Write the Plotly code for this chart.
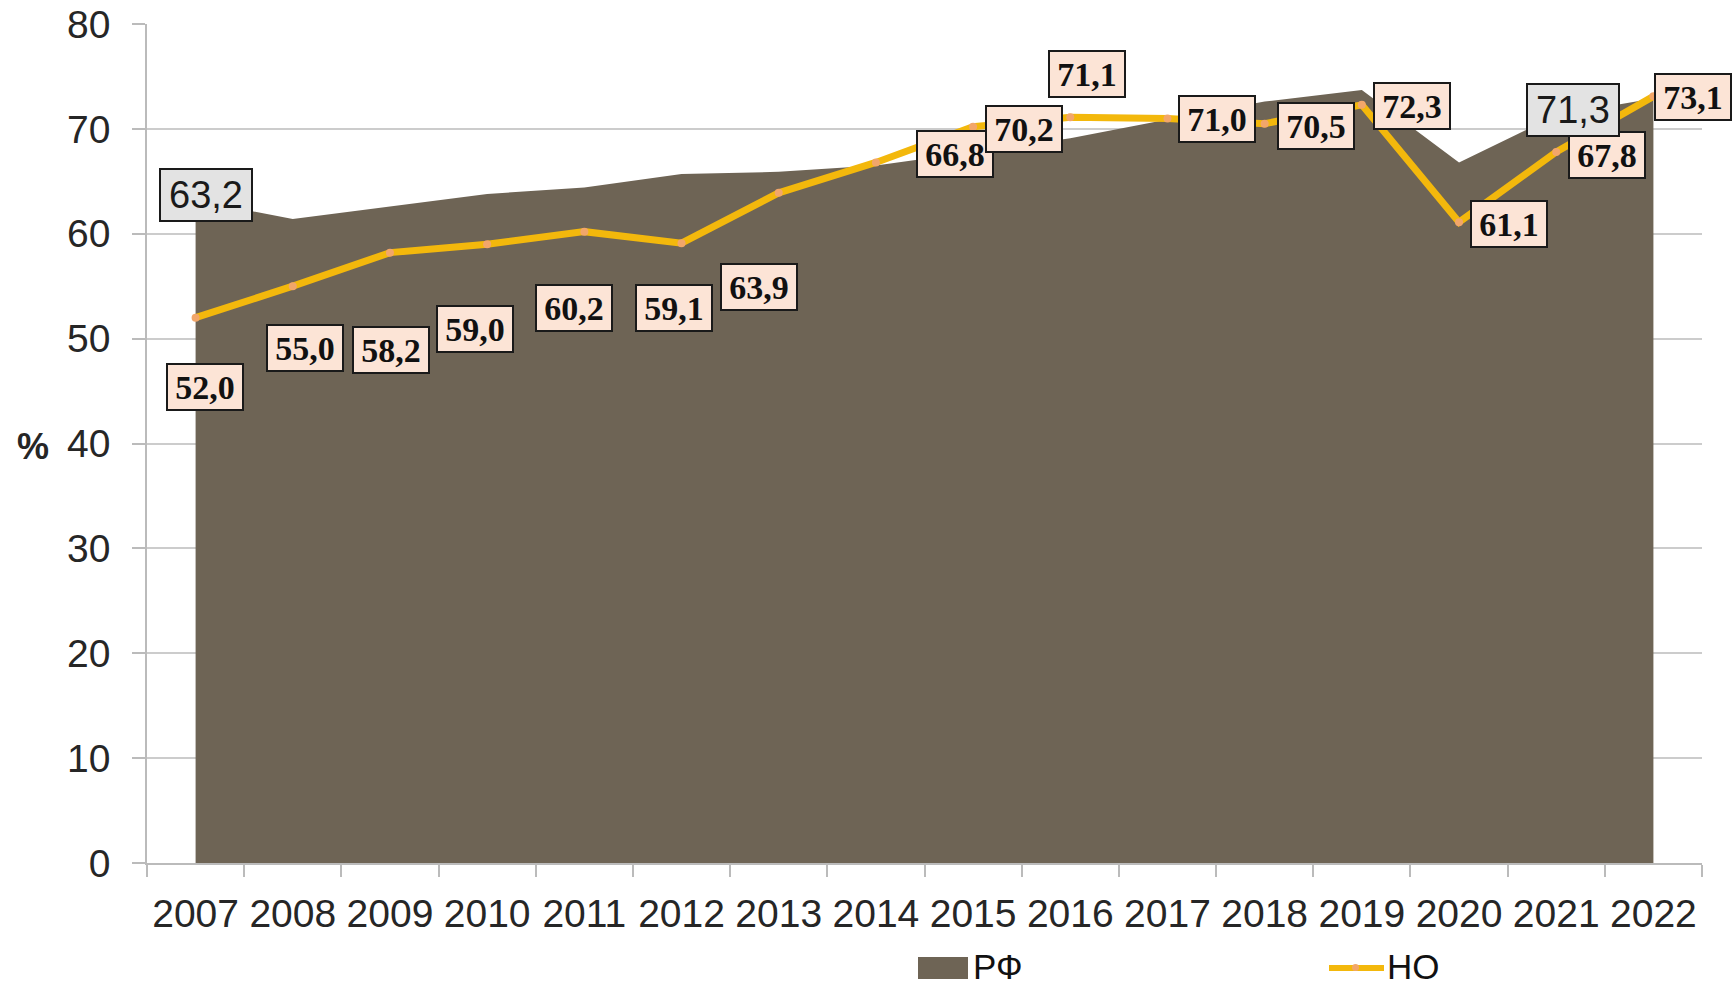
import plotly.graph_objects as go

# ---------------- data ----------------
years = ["2007", "2008", "2009", "2010", "2011", "2012", "2013", "2014",
         "2015", "2016", "2017", "2018", "2019", "2020", "2021", "2022"]
rf_values = [63.2, 61.4, 62.6, 63.8, 64.4, 65.7, 65.9, 66.5,
             67.8, 69.1, 70.9, 72.6, 73.7, 66.8, 71.3, 72.9]
no_values = [52.0, 55.0, 58.2, 59.0, 60.2, 59.1, 63.9, 66.8,
             70.2, 71.1, 71.0, 70.5, 72.3, 61.1, 67.8, 73.1]
rf_labelled_years = ["2007", "2021"]
y_ticks = [0, 10, 20, 30, 40, 50, 60, 70, 80]
series_names = ["РФ", "НО"]

# ---------------- label offsets (px, screen: +dx right, +dy down) ----------------
no_label_offsets = [(9, 69), (12, 62), (1, 97), (-12, 85), (-10, 76), (-8, 65),
                    (-20, 94), (79, -8), (51, 2), (17, -43), (50, 1), (51, 2),
                    (50, 1), (50, 2), (51, 3), (40, 1)]
rf_label_offsets = [(10, -5), (17, -5)]

# ---------------- styles ----------------
W, H = 1734, 986
ML, MR, MT, MB = 147, 32, 24, 123
PW, PH = W - ML - MR, H - MT - MB
AREA_COLOR = "#6E6455"
LINE_COLOR = "#F3B80C"
MARKER_COLOR = "#F2A66A"
PEACH = "#FCE4D6"
GRAYBOX = "#E3E3E3"
GRID = "#CCCCCC"
TXT = "#262626"
SANS = "Liberation Sans, Arial, sans-serif"
SERIF = "Liberation Serif, Times New Roman, serif"


def fmt(v):
    return f"{v:.1f}".replace(".", ",")


def px2paper(x, y):
    return (x - ML) / PW, (H - MB - y) / PH


fig = go.Figure()

fig.add_trace(go.Scatter(
    x=years, y=rf_values, name=series_names[0], mode="lines",
    fill="tozeroy", fillcolor=AREA_COLOR, line=dict(width=0, color=AREA_COLOR),
    showlegend=False, hoverinfo="skip",
))
fig.add_trace(go.Scatter(
    x=years, y=no_values, name=series_names[1], mode="lines+markers",
    line=dict(width=7, color=LINE_COLOR),
    marker=dict(size=8, color=MARKER_COLOR),
    showlegend=False,
))

annotations = []
for i, (v, (dx, dy)) in enumerate(zip(no_values, no_label_offsets)):
    annotations.append(dict(
        x=i, y=v, xref="x", yref="y", text=fmt(v), showarrow=False,
        xshift=dx, yshift=-dy,
        font=dict(family=SERIF, size=34, color="#111111", weight="bold"),
        bgcolor=PEACH, bordercolor="#1a1a1a", borderwidth=2, borderpad=1,
        width=72, height=42,
    ))
for yr, (dx, dy) in zip(rf_labelled_years, rf_label_offsets):
    i = years.index(yr)
    v = rf_values[i]
    annotations.append(dict(
        x=i, y=v, xref="x", yref="y", text=fmt(v), showarrow=False,
        xshift=dx, yshift=-dy,
        font=dict(family=SANS, size=38, color="#1a1a1a"),
        bgcolor=GRAYBOX, bordercolor="#1a1a1a", borderwidth=2, borderpad=1,
        width=88, height=48,
    ))

# "%" axis caption
px_, py_ = px2paper(33, 447)
annotations.append(dict(
    x=px_, y=py_, xref="paper", yref="paper", text="%", showarrow=False,
    xanchor="center", yanchor="middle",
    font=dict(family=SANS, size=36, color=TXT, weight="bold"),
))

# custom legend
LEG_Y = 967
shapes = []
x0, y0 = px2paper(918, LEG_Y - 10)
x1, y1 = px2paper(968, LEG_Y + 12)
shapes.append(dict(type="rect", xref="paper", yref="paper", x0=x0, x1=x1, y0=y1, y1=y0,
                   fillcolor=AREA_COLOR, line=dict(width=0)))
tx, ty = px2paper(971, LEG_Y)
annotations.append(dict(x=tx, y=ty, xref="paper", yref="paper", text=series_names[0],
                        showarrow=False, xanchor="left", yanchor="middle",
                        font=dict(family=SANS, size=35, color="#111111")))
lx0, ly = px2paper(1329, LEG_Y + 1)
lx1, _ = px2paper(1384, LEG_Y + 1)
shapes.append(dict(type="line", xref="paper", yref="paper", x0=lx0, x1=lx1, y0=ly, y1=ly,
                   line=dict(color=LINE_COLOR, width=6)))
mx0, my0 = px2paper(1352, LEG_Y - 3)
mx1, my1 = px2paper(1359, LEG_Y + 4)
shapes.append(dict(type="circle", xref="paper", yref="paper", x0=mx0, x1=mx1, y0=my1, y1=my0,
                   fillcolor=MARKER_COLOR, line=dict(width=0)))
tx2, _ = px2paper(1385, LEG_Y)
annotations.append(dict(x=tx2, y=ty, xref="paper", yref="paper", text=series_names[1],
                        showarrow=False, xanchor="left", yanchor="middle",
                        font=dict(family=SANS, size=35, color="#111111")))

fig.update_layout(
    width=W, height=H,
    margin=dict(l=ML, r=MR, t=MT, b=MB, pad=0),
    paper_bgcolor="white", plot_bgcolor="white",
    showlegend=False,
    annotations=annotations, shapes=shapes,
    font=dict(family=SANS, color=TXT),
)
fig.update_xaxes(
    type="category", categoryorder="array", categoryarray=years,
    range=[-0.5, len(years) - 0.5], automargin=False,
    tickson="boundaries", ticks="outside", ticklen=12, tickwidth=1.5, tickcolor="#BBBBBB",
    showline=True, linecolor="#BBBBBB", linewidth=2,
    showgrid=False, zeroline=False,
    tickfont=dict(size=39, color=TXT, family=SANS),
    ticklabelstandoff=15,
)
fig.update_yaxes(
    range=[0, 80], tickvals=y_ticks, automargin=False,
    ticks="outside", ticklen=13, tickwidth=1.5, tickcolor="#BBBBBB",
    showline=True, linecolor="#BBBBBB", linewidth=1.5,
    showgrid=True, gridcolor=GRID, gridwidth=1.5, zeroline=False,
    tickfont=dict(size=39, color=TXT, family=SANS),
    ticklabelstandoff=14,
)

fig.write_html("out.html", config={"displayModeBar": False},
               post_script="document.body.style.margin='0';document.body.style.overflow='hidden';")
